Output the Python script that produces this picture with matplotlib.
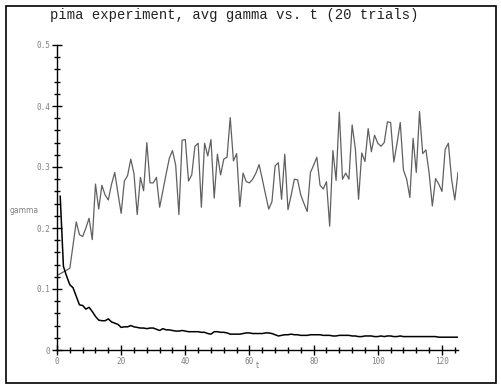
import numpy as np
import matplotlib.pyplot as plt
from matplotlib.patches import Rectangle
from matplotlib.ticker import MultipleLocator

# gray series: avg gamma, t = 0..125
gamma_noisy = [
    0.122, 0.125, 0.128, 0.131, 0.134, 0.172, 0.210, 0.189, 0.186, 0.200,
    0.216, 0.181, 0.272, 0.231, 0.270, 0.254, 0.246, 0.272, 0.291, 0.257,
    0.224, 0.277, 0.286, 0.313, 0.289, 0.222, 0.283, 0.261, 0.340, 0.274,
    0.274, 0.283, 0.234, 0.261, 0.288, 0.314, 0.327, 0.303, 0.222, 0.344,
    0.345, 0.277, 0.287, 0.334, 0.339, 0.234, 0.339, 0.318, 0.345, 0.249,
    0.321, 0.287, 0.313, 0.316, 0.381, 0.310, 0.322, 0.235, 0.290, 0.276,
    0.274, 0.280, 0.290, 0.304, 0.280, 0.255, 0.231, 0.243, 0.302, 0.307,
    0.247, 0.321, 0.230, 0.254, 0.280, 0.279, 0.254, 0.240, 0.227, 0.291,
    0.303, 0.316, 0.270, 0.264, 0.276, 0.203, 0.327, 0.278, 0.390, 0.280,
    0.290, 0.280, 0.369, 0.330, 0.247, 0.323, 0.309, 0.363, 0.325, 0.352,
    0.339, 0.334, 0.340, 0.374, 0.373, 0.308, 0.339, 0.373, 0.295, 0.280,
    0.250, 0.347, 0.291, 0.391, 0.322, 0.328, 0.290, 0.236, 0.281, 0.272,
    0.260, 0.329, 0.339, 0.280, 0.246, 0.291,
]

# black series, t = 1..125
gamma_decay = [
    0.252, 0.137, 0.121, 0.107, 0.102, 0.088, 0.074, 0.073, 0.067, 0.070,
    0.063, 0.055, 0.049, 0.048, 0.048, 0.051, 0.046, 0.044, 0.042, 0.037,
    0.038, 0.038, 0.040, 0.038, 0.037, 0.036, 0.036, 0.035, 0.036, 0.036,
    0.034, 0.032, 0.035, 0.033, 0.033, 0.032, 0.031, 0.031, 0.032, 0.031,
    0.030, 0.030, 0.030, 0.030, 0.029, 0.029, 0.027, 0.026, 0.030, 0.030,
    0.029, 0.029, 0.028, 0.026, 0.026, 0.026, 0.026, 0.027, 0.028, 0.028,
    0.027, 0.027, 0.027, 0.027, 0.028, 0.028, 0.027, 0.025, 0.023, 0.024,
    0.025, 0.025, 0.026, 0.025, 0.025, 0.024, 0.024, 0.024, 0.025, 0.025,
    0.025, 0.025, 0.024, 0.024, 0.024, 0.023, 0.023, 0.024, 0.024, 0.024,
    0.024, 0.023, 0.023, 0.022, 0.022, 0.023, 0.023, 0.023, 0.022, 0.022,
    0.023, 0.022, 0.023, 0.023, 0.022, 0.022, 0.023, 0.022, 0.022, 0.022,
    0.022, 0.022, 0.022, 0.022, 0.022, 0.022, 0.022, 0.022, 0.021, 0.021,
    0.021, 0.021, 0.021, 0.021, 0.021,
]

t_noisy = np.arange(len(gamma_noisy))
t_decay = np.arange(1, len(gamma_decay) + 1)

x_ticks = [0, 20, 40, 60, 80, 100, 120]
y_ticks = [0, 0.1, 0.2, 0.3, 0.4, 0.5]
y_labels = ['0', '0.1', '0.2', '0.3', '0.4', '0.5']

fig = plt.figure(figsize=(5.02, 3.86), dpi=100)
ax = fig.add_axes([57 / 502, 36 / 386, 401 / 502, 305 / 386])

ax.plot(t_noisy, gamma_noisy, color='#606060', lw=0.9)
ax.plot(t_decay, gamma_decay, color='black', lw=1.1)

ax.set_xlim(0, 125)
ax.set_ylim(0, 0.5)
for s in ['top', 'right']:
    ax.spines[s].set_visible(False)
for s in ['left', 'bottom']:
    ax.spines[s].set_linewidth(1.0)

ax.set_xticks(x_ticks)
ax.set_yticks(y_ticks)
ax.set_yticklabels(y_labels)
ax.xaxis.set_minor_locator(MultipleLocator(4))
ax.yaxis.set_minor_locator(MultipleLocator(0.02))
ax.tick_params(which='major', direction='inout', length=7, width=1,
               labelsize=5.5, labelcolor='#808080', pad=1.5)
ax.tick_params(which='minor', direction='inout', length=4, width=1)
for lab in ax.get_xticklabels() + ax.get_yticklabels():
    lab.set_family('DejaVu Sans Mono')

fig.text(10 / 502, 1 - 210 / 386, 'gamma', fontsize=5.5, color='#808080',
         family='DejaVu Sans', va='center', ha='left')
ax.text(0.5, -0.05, 't', transform=ax.transAxes, fontsize=5.5,
        color='#808080', family='DejaVu Sans', va='center', ha='center')

fig.text(50 / 502, 1 - 15 / 386, 'pima experiment, avg gamma vs. t (20 trials)',
         family='Liberation Mono', fontsize=10, va='center', ha='left',
         color='#222222')

fig.patches.append(Rectangle((5.5 / 502, 3.5 / 386), 491 / 502, 377 / 386,
                             transform=fig.transFigure, fill=False,
                             edgecolor='black', lw=1.2))

fig.savefig('out.png', dpi=100)
